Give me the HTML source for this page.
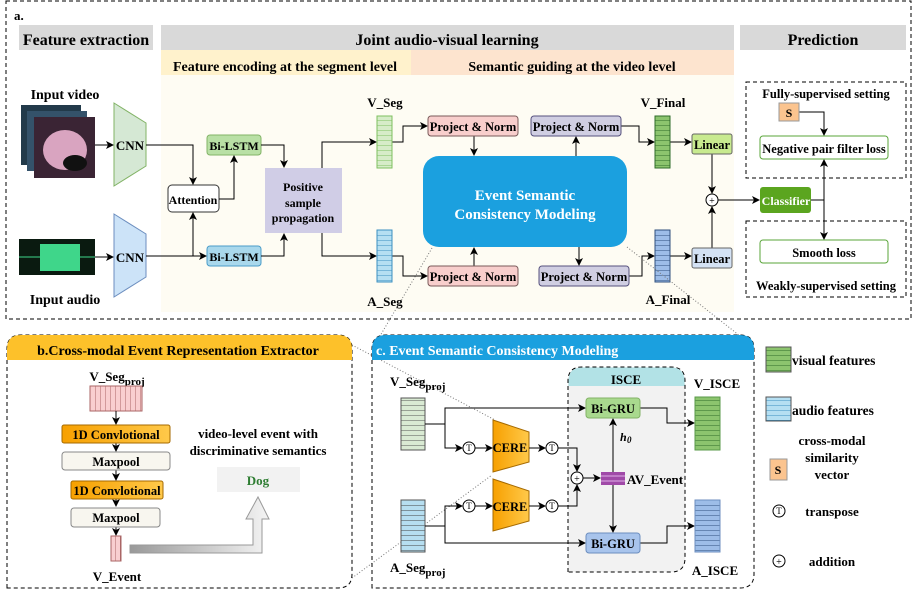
<!DOCTYPE html>
<html><head><meta charset="utf-8"><style>
body{margin:0;background:#fff}
svg{display:block;font-family:"Liberation Serif",serif;font-weight:bold}
</style></head><body>
<svg width="914" height="592" viewBox="0 0 914 592" xmlns="http://www.w3.org/2000/svg">
<defs>
<marker id="a" markerWidth="8" markerHeight="8" refX="7" refY="4" orient="auto" markerUnits="userSpaceOnUse"><path d="M0,0 L8,4 L0,8 L2,4z" fill="#000"/></marker>
<linearGradient id="og" x1="0" x2="1"><stop offset="0" stop-color="#f7a000"/><stop offset="1" stop-color="#ffc94a"/></linearGradient>
<linearGradient id="gg" x1="0" x2="1"><stop offset="0" stop-color="#999"/><stop offset="1" stop-color="#f4f4f4"/></linearGradient>
<pattern id="pg" width="10" height="5" patternUnits="userSpaceOnUse"><rect width="10" height="5" fill="#d6ecc8"/><line x1="0" y1="0" x2="10" y2="0" stroke="#7fbf5f" stroke-width="1"/></pattern>
<pattern id="pgd" width="10" height="5" patternUnits="userSpaceOnUse"><rect width="10" height="5" fill="#8cc46e"/><line x1="0" y1="0" x2="10" y2="0" stroke="#2f6b2a" stroke-width="1"/></pattern>
<pattern id="pb" width="10" height="5" patternUnits="userSpaceOnUse"><rect width="10" height="5" fill="#b5dff2"/><line x1="0" y1="0" x2="10" y2="0" stroke="#3c8fc0" stroke-width="1"/></pattern>
<pattern id="pbd" width="10" height="5" patternUnits="userSpaceOnUse"><rect width="10" height="5" fill="#9dbde8"/><line x1="0" y1="0" x2="10" y2="0" stroke="#30507e" stroke-width="1"/></pattern>
<pattern id="pc" width="10" height="5" patternUnits="userSpaceOnUse"><rect width="10" height="5" fill="#d9ead3"/><line x1="0" y1="0" x2="10" y2="0" stroke="#555" stroke-width="1"/></pattern>
<pattern id="pcb" width="10" height="5" patternUnits="userSpaceOnUse"><rect width="10" height="5" fill="#b6def0"/><line x1="0" y1="0" x2="10" y2="0" stroke="#444" stroke-width="1"/></pattern>
<pattern id="pv" width="5" height="10" patternUnits="userSpaceOnUse"><rect width="5" height="10" fill="#f9cfd0"/><line x1="0" y1="0" x2="0" y2="10" stroke="#a66" stroke-width="1"/></pattern>
</defs>

<rect x="6" y="1" width="905" height="318" fill="none" stroke="#000" stroke-dasharray="4,3"/>
<text x="14" y="20" font-size="13">a.</text>
<rect x="19" y="25" width="134" height="25" fill="#d9d9d9"/>
<text x="86" y="45" font-size="16" text-anchor="middle">Feature extraction</text>
<rect x="161" y="25" width="573" height="25" fill="#d9d9d9"/>
<text x="447" y="45" font-size="16" text-anchor="middle">Joint audio-visual learning</text>
<rect x="740" y="25" width="166" height="25" fill="#d9d9d9"/>
<text x="823" y="45" font-size="16" text-anchor="middle">Prediction</text>
<rect x="161" y="50" width="250" height="25" fill="#fff2cc"/>
<rect x="411" y="50" width="323" height="25" fill="#fde4cf"/>
<rect x="161" y="75" width="573" height="237" fill="#fefcf3"/>
<text x="285" y="71" font-size="14" text-anchor="middle">Feature encoding at the segment level</text>
<text x="572" y="71" font-size="14" text-anchor="middle">Semantic guiding at the video level</text>

<text x="65" y="99" font-size="14" text-anchor="middle">Input video</text>
<rect x="21" y="105" width="60" height="60" fill="#223a4a"/>
<rect x="27" y="111" width="60" height="60" fill="#34526a"/>
<rect x="34" y="117" width="61" height="61" fill="#3a2434"/>
<ellipse cx="65" cy="150" rx="22" ry="20" fill="#d9a4c0"/>
<ellipse cx="75" cy="163" rx="12" ry="8" fill="#111"/>
<text x="65" y="304" font-size="14" text-anchor="middle">Input audio</text>
<rect x="19" y="239" width="76" height="36" fill="#0a1a10"/>
<rect x="40" y="244" width="40" height="27" fill="#3fd68a"/>
<line x1="19" y1="257" x2="95" y2="257" stroke="#3fd68a"/>

<polygon points="114,103 146,123 146,166 114,186" fill="#d5e8d4" stroke="#82b366"/>
<text x="130" y="150" font-size="13" text-anchor="middle">CNN</text>
<polygon points="114,214 146,234 146,277 114,297" fill="#cce3f8" stroke="#6c8ebf"/>
<text x="130" y="262" font-size="13" text-anchor="middle">CNN</text>
<line x1="95" y1="145" x2="113" y2="145" stroke="#000" marker-end="url(#a)"/>
<line x1="95" y1="257" x2="113" y2="257" stroke="#000" marker-end="url(#a)"/>

<rect x="168" y="185" width="51" height="27" rx="4" fill="#fff" stroke="#333"/>
<text x="193" y="204" font-size="12" text-anchor="middle">Attention</text>
<rect x="207" y="135" width="54" height="20" rx="3" fill="#b9e0a5" stroke="#82b366"/>
<text x="234" y="150" font-size="12" text-anchor="middle">Bi-LSTM</text>
<rect x="207" y="246" width="54" height="20" rx="3" fill="#a9d8ec" stroke="#4a9cc8"/>
<text x="234" y="261" font-size="12" text-anchor="middle">Bi-LSTM</text>
<rect x="265" y="168" width="77" height="65" fill="#d0cde6"/>
<text x="303" y="191" font-size="12" text-anchor="middle">Positive</text>
<text x="303" y="207" font-size="12" text-anchor="middle">sample</text>
<text x="303" y="222" font-size="12" text-anchor="middle">propagation</text>
<g stroke="#000" fill="none">
<polyline points="146,145 193,145 193,184" marker-end="url(#a)"/>
<polyline points="146,256 206,256" marker-end="url(#a)"/>
<polyline points="193,256 193,213" marker-end="url(#a)"/>
<polyline points="219,199 234,199 234,156" marker-end="url(#a)"/>
<polyline points="261,145 284,145 284,167" marker-end="url(#a)"/>
<polyline points="261,256 284,256 284,234" marker-end="url(#a)"/>
<polyline points="322,168 322,142 376,142" marker-end="url(#a)"/>
<polyline points="322,233 322,256 376,256" marker-end="url(#a)"/>
<polyline points="392,142 403,142 403,126 427,126" marker-end="url(#a)"/>
<polyline points="392,256 403,256 403,276 427,276" marker-end="url(#a)"/>
<polyline points="474,136 474,155" marker-end="url(#a)"/>
<polyline points="474,266 474,248" marker-end="url(#a)"/>
<polyline points="576,156 576,137" marker-end="url(#a)"/>
<polyline points="579,247 579,265" marker-end="url(#a)"/>
<polyline points="621,126 639,126 639,142 654,142" marker-end="url(#a)"/>
<polyline points="629,276 642,276 642,256 654,256" marker-end="url(#a)"/>
<polyline points="670,142 691,142" marker-end="url(#a)"/>
<polyline points="670,256 691,256" marker-end="url(#a)"/>
<polyline points="712,154 712,193" marker-end="url(#a)"/>
<polyline points="712,248 712,207" marker-end="url(#a)"/>
<polyline points="718,200 759,200" marker-end="url(#a)"/>
<polyline points="811,200 824,200"/>
<polyline points="824,200 824,160" marker-end="url(#a)"/>
<polyline points="824,200 824,239" marker-end="url(#a)"/>
<polyline points="799,112 824,112 824,135" marker-end="url(#a)"/>
</g>
<text x="385" y="107" font-size="13" text-anchor="middle">V_Seg</text>
<rect x="377" y="116" width="15" height="52" fill="url(#pg)" stroke="#7fbf5f"/>
<rect x="377" y="230" width="15" height="52" fill="url(#pb)" stroke="#3c8fc0"/>
<text x="385" y="306" font-size="13" text-anchor="middle">A_Seg</text>
<rect x="428" y="116" width="90" height="20" rx="3" fill="#f8cecc" stroke="#7a5a5a"/>
<text x="473" y="131" font-size="12.5" text-anchor="middle">Project &amp; Norm</text>
<rect x="428" y="266" width="90" height="20" rx="3" fill="#f8cecc" stroke="#7a5a5a"/>
<text x="473" y="281" font-size="12.5" text-anchor="middle">Project &amp; Norm</text>
<rect x="531" y="116" width="90" height="20" rx="3" fill="#d0cee2" stroke="#56517e"/>
<text x="576" y="131" font-size="12.5" text-anchor="middle">Project &amp; Norm</text>
<rect x="539" y="266" width="90" height="20" rx="3" fill="#d0cee2" stroke="#56517e"/>
<text x="584" y="281" font-size="12.5" text-anchor="middle">Project &amp; Norm</text>
<rect x="423" y="156" width="204" height="91" rx="16" fill="#1ba0df"/>
<text x="525" y="200" font-size="15" fill="#fff" text-anchor="middle">Event Semantic</text>
<text x="525" y="219" font-size="15" fill="#fff" text-anchor="middle">Consistency Modeling</text>
<text x="663" y="107" font-size="13" text-anchor="middle">V_Final</text>
<rect x="655" y="116" width="15" height="52" fill="url(#pgd)" stroke="#2f6b2a"/>
<rect x="655" y="230" width="15" height="52" fill="url(#pbd)" stroke="#30507e"/>
<text x="668" y="304" font-size="13" text-anchor="middle">A_Final</text>
<rect x="692" y="134" width="40" height="20" rx="2" fill="#c8ea8f" stroke="#666"/>
<text x="712" y="149" font-size="12.5" text-anchor="middle">Linear</text>
<rect x="692" y="248" width="40" height="20" rx="2" fill="#d4e2f4" stroke="#666"/>
<text x="712" y="263" font-size="12.5" text-anchor="middle">Linear</text>
<circle cx="712" cy="200" r="6" fill="#fff" stroke="#000"/>
<text x="712" y="204" font-size="10" text-anchor="middle" font-weight="normal">+</text>
<rect x="760" y="187" width="51" height="26" rx="3" fill="#5ba51f"/>
<text x="786" y="205" font-size="12" fill="#fff" text-anchor="middle">Classifier</text>
<rect x="746" y="82" width="160" height="96" fill="none" stroke="#000" stroke-dasharray="4,3"/>
<text x="826" y="98" font-size="12.5" text-anchor="middle">Fully-supervised setting</text>
<rect x="779" y="103" width="20" height="18" fill="#fbc48f" stroke="#999"/>
<text x="789" y="117" font-size="12" text-anchor="middle">S</text>
<rect x="760" y="136" width="128" height="23" rx="3" fill="#fff" stroke="#5aa53a"/>
<text x="824" y="153" font-size="12.5" text-anchor="middle">Negative pair filter loss</text>
<rect x="746" y="221" width="160" height="76" fill="none" stroke="#000" stroke-dasharray="4,3"/>
<rect x="760" y="240" width="128" height="23" rx="3" fill="#fff" stroke="#5aa53a"/>
<text x="824" y="257" font-size="12.5" text-anchor="middle">Smooth loss</text>
<text x="826" y="290" font-size="12.5" text-anchor="middle">Weakly-supervised setting</text>

<g stroke="#777" stroke-dasharray="1,2" fill="none">
<line x1="432" y1="248" x2="380" y2="336"/>
<line x1="627" y1="247" x2="740" y2="336"/>
<line x1="352" y1="345" x2="495" y2="420"/>
<line x1="352" y1="578" x2="492" y2="475"/>
</g>

<path d="M7,588 V349 Q7,335 21,335 H338 Q352,335 352,349 V574 Q352,588 338,588 Z" fill="none" stroke="#000" stroke-dasharray="4,3"/>
<path d="M7,360 V349 Q7,335 21,335 H338 Q352,335 352,349 V360 Z" fill="#fdc12a"/>
<text x="178" y="355" font-size="14" text-anchor="middle">b.Cross-modal Event Representation Extractor</text>
<text x="117" y="381" font-size="13" text-anchor="middle">V_Seg<tspan font-size="11" dy="4">proj</tspan></text>
<rect x="90" y="386" width="52" height="25" fill="url(#pv)" stroke="#a66"/>
<g stroke="#000"><line x1="116" y1="411" x2="116" y2="424" marker-end="url(#a)"/><line x1="116" y1="443" x2="116" y2="451" marker-end="url(#a)"/><line x1="116" y1="470" x2="116" y2="480" marker-end="url(#a)"/><line x1="116" y1="499" x2="116" y2="506" marker-end="url(#a)"/><line x1="116" y1="527" x2="116" y2="535" marker-end="url(#a)"/></g>
<rect x="62" y="425" width="108" height="18" rx="2" fill="url(#og)" stroke="#a66a00"/>
<text x="116" y="439" font-size="12.5" text-anchor="middle">1D Convlotional</text>
<rect x="62" y="452" width="108" height="18" rx="3" fill="#f8f6ef" stroke="#888"/>
<text x="116" y="466" font-size="12.5" text-anchor="middle">Maxpool</text>
<rect x="71" y="481" width="92" height="18" rx="2" fill="url(#og)" stroke="#a66a00"/>
<text x="117" y="495" font-size="12.5" text-anchor="middle">1D Convlotional</text>
<rect x="71" y="508" width="89" height="19" rx="3" fill="#f8f6ef" stroke="#888"/>
<text x="116" y="522" font-size="12.5" text-anchor="middle">Maxpool</text>
<rect x="111" y="536" width="10" height="25" fill="url(#pv)" stroke="#a66"/>
<text x="117" y="581" font-size="13" text-anchor="middle">V_Event</text>
<path d="M130,545 H253 V519 H246 L258,497 L269,519 H262 V553 H130 Z" fill="url(#gg)" stroke="#999"/>
<text x="258" y="438" font-size="13" text-anchor="middle">video-level event with</text>
<text x="258" y="455" font-size="13" text-anchor="middle">discriminative semantics</text>
<rect x="217" y="467" width="83" height="25" fill="#f2f2f2"/>
<text x="258" y="485" font-size="13" fill="#2e7d32" text-anchor="middle">Dog</text>

<path d="M372,588 V349 Q372,335 386,335 H740 Q754,335 754,349 V574 Q754,588 740,588 Z" fill="none" stroke="#000" stroke-dasharray="4,3"/>
<path d="M372,360 V349 Q372,335 386,335 H740 Q754,335 754,349 V360 Z" fill="#1ba0df"/>
<text x="376" y="355" font-size="14" fill="#fff">c. Event Semantic Consistency Modeling</text>
<path d="M568,572 V381 Q568,367 582,367 H671 Q685,367 685,381 V558 Q685,572 671,572 Z" fill="#f2f2f2" stroke="#000" stroke-dasharray="4,3"/>
<path d="M568.5,386 V381 Q568.5,367.5 582,367.5 H671 Q684.5,367.5 684.5,381 V386 Z" fill="#b2e2e6"/>
<text x="626" y="384" font-size="13" text-anchor="middle">ISCE</text>
<text x="390" y="386" font-size="13">V_Seg<tspan font-size="11" dy="4">proj</tspan></text>
<rect x="401" y="398" width="24" height="52" fill="url(#pc)" stroke="#555"/>
<rect x="401" y="500" width="24" height="52" fill="url(#pcb)" stroke="#555"/>
<text x="390" y="572" font-size="13">A_Seg<tspan font-size="11" dy="4">proj</tspan></text>
<polygon points="493,420 529,432 529,462 493,472" fill="url(#og)" stroke="#a66a00"/>
<text x="510" y="452" font-size="12.5" text-anchor="middle">CERE</text>
<polygon points="493,479 529,491 529,521 493,531" fill="url(#og)" stroke="#a66a00"/>
<text x="510" y="511" font-size="12.5" text-anchor="middle">CERE</text>
<g stroke="#000" fill="none">
<polyline points="425,424 445,424 445,408 585,408" marker-end="url(#a)"/>
<polyline points="445,424 445,448 462,448" marker-end="url(#a)"/>
<polyline points="475,448 492,448" marker-end="url(#a)"/>
<polyline points="529,448 545,448" marker-end="url(#a)"/>
<polyline points="558,448 577,448 577,471" marker-end="url(#a)"/>
<polyline points="425,526 445,526 445,506 462,506" marker-end="url(#a)"/>
<polyline points="475,506 492,506" marker-end="url(#a)"/>
<polyline points="529,506 545,506" marker-end="url(#a)"/>
<polyline points="558,506 577,506 577,485" marker-end="url(#a)"/>
<polyline points="445,526 445,543 585,543" marker-end="url(#a)"/>
<polyline points="583,478 600,478" marker-end="url(#a)"/>
<polyline points="613,472 613,419" marker-end="url(#a)"/>
<polyline points="613,485 613,532" marker-end="url(#a)"/>
<polyline points="640,408 667,408 667,423 694,423" marker-end="url(#a)"/>
<polyline points="640,543 667,543 667,526 694,526" marker-end="url(#a)"/>
</g>
<g fill="#fff" stroke="#000"><circle cx="469" cy="448" r="6"/><circle cx="552" cy="448" r="6"/><circle cx="469" cy="506" r="6"/><circle cx="552" cy="506" r="6"/><circle cx="577" cy="478" r="6"/></g>
<g font-size="9" text-anchor="middle" font-weight="normal"><text x="469" y="451">T</text><text x="552" y="451">T</text><text x="469" y="509">T</text><text x="552" y="509">T</text><text x="577" y="482" font-size="10">+</text></g>
<rect x="586" y="398" width="54" height="20" rx="3" fill="#a9d98e" stroke="#82b366"/>
<text x="613" y="413" font-size="12.5" text-anchor="middle">Bi-GRU</text>
<rect x="586" y="533" width="54" height="20" rx="3" fill="#a8c4ec" stroke="#6c8ebf"/>
<text x="613" y="548" font-size="12.5" text-anchor="middle">Bi-GRU</text>
<rect x="601" y="472" width="24" height="13" fill="#a04aa8"/>
<line x1="601" y1="476" x2="625" y2="476" stroke="#e0b0e8"/><line x1="601" y1="481" x2="625" y2="481" stroke="#e0b0e8"/>
<text x="627" y="484" font-size="13">AV_Event</text>
<text x="620" y="441" font-size="12" font-style="italic">h</text><text x="627" y="443" font-size="9" font-style="italic">0</text>
<text x="717" y="388" font-size="13" text-anchor="middle">V_ISCE</text>
<rect x="695" y="397" width="25" height="53" fill="url(#pgd)" stroke="#5a9a4a"/>
<rect x="695" y="500" width="25" height="52" fill="url(#pbd)" stroke="#6c8ebf"/>
<text x="715" y="575" font-size="13" text-anchor="middle">A_ISCE</text>

<rect x="766" y="347" width="25" height="25" fill="url(#pgd)" stroke="#555"/>
<text x="792" y="365" font-size="13.5">visual features</text>
<rect x="766" y="397" width="25" height="24" fill="url(#pb)" stroke="#555"/>
<text x="792" y="415" font-size="13.5">audio features</text>
<rect x="770" y="459" width="17" height="21" fill="#fbc48f" stroke="#999"/>
<text x="778" y="474" font-size="12" text-anchor="middle">S</text>
<text x="832" y="445" font-size="13" text-anchor="middle">cross-modal</text>
<text x="832" y="462" font-size="13" text-anchor="middle">similarity</text>
<text x="832" y="479" font-size="13" text-anchor="middle">vector</text>
<circle cx="779" cy="511" r="6" fill="#fff" stroke="#000"/><text x="779" y="514" font-size="9" text-anchor="middle" font-weight="normal">T</text>
<text x="832" y="516" font-size="13" text-anchor="middle">transpose</text>
<circle cx="779" cy="561" r="6" fill="#fff" stroke="#000"/><text x="779" y="565" font-size="10" text-anchor="middle" font-weight="normal">+</text>
<text x="832" y="566" font-size="13" text-anchor="middle">addition</text>
</svg>
</body></html>
